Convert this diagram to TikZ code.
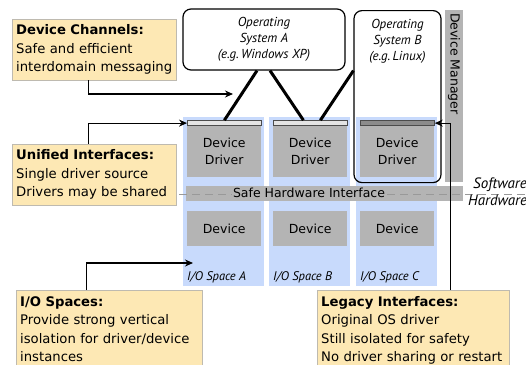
\documentclass[tikz,border=0pt]{standalone}
\usepackage{fontspec}
\setmainfont{DejaVu Sans}
\newfontfamily\osfont{PT Sans}
\usetikzlibrary{arrows.meta,positioning}

\definecolor{notefill}{RGB}{253,232,180}
\definecolor{noteline}{RGB}{190,186,176}
\definecolor{spacefill}{RGB}{200,218,252}
\definecolor{boxgray}{RGB}{180,180,180}
\definecolor{barlight}{RGB}{228,228,228}
\definecolor{bardark}{RGB}{140,140,140}

\begin{document}
\begin{tikzpicture}[x=1pt,y=-1pt,
  >={Stealth[length=8pt,width=7pt]},
  note/.style={draw=noteline,fill=notefill,anchor=north west,align=left,
    inner xsep=4pt,text width=156pt,font=\fontsize{13.2}{18.5}\selectfont},
  space/.style={fill=spacefill,anchor=north west,minimum width=81pt,
    minimum height=169pt,inner sep=0},
  graybox/.style={fill=boxgray,anchor=north west,minimum width=74pt,align=center,
    inner sep=0,font=\fontsize{12.5}{17}\selectfont},
  bar/.style={draw=black!70,line width=0.8pt,anchor=south west,minimum width=74pt,
    minimum height=5pt,inner sep=0},
  osbox/.style={draw,rounded corners=8pt,line width=1.2pt,inner sep=0},
  ostext/.style={font=\osfont\itshape\fontsize{13}{16}\selectfont,align=center,inner sep=0},
  spacelabel/.style={font=\osfont\itshape\fontsize{12.5}{14}\selectfont,
    anchor=base west,inner sep=0},
  splitlabel/.style={font=\osfont\itshape\fontsize{15}{17}\selectfont,
    anchor=base west,inner sep=0},
  link/.style={line width=3pt},
  pointer/.style={->,line width=1.2pt}]

  \useasboundingbox (0,0) rectangle (526,364);

  % I/O spaces
  \node[space] (spaceA) at (183,117) {};
  \node[space] (spaceB) at (269,117) {};
  \node[space] (spaceC) at (356,117) {};

  % safe hardware interface
  \node[fill=boxgray,anchor=north west,minimum width=277pt,minimum height=15pt,
    inner sep=0] (hwband) at (186,186) {};
  \coordinate (splitL) at (179,194);
  \coordinate (splitR) at (530,194);
  \draw[black!40,line width=1pt,dash pattern=on 8pt off 5pt] (splitL) -- (splitR);
  \node[fill=boxgray,inner sep=1pt,font=\fontsize{12.5}{15}\selectfont]
    (safe) at (309,193) {Safe Hardware Interface};
  \node[splitlabel] (sw) at (473,188) {Software};
  \node[splitlabel] (hw) at (468,205) {Hardware};

  % device manager
  \node[fill=boxgray,anchor=north west,minimum width=18pt,minimum height=172pt,
    inner sep=0] (mgrband) at (445,10) {};
  \node[rotate=-90,anchor=west,inner sep=0,font=\fontsize{12.5}{15}\selectfont]
    (mgr) at (454,13) {Device Manager};

  % drivers and devices
  \node[graybox,minimum height=51pt] (drvA) at (187,126) {Device\\Driver};
  \node[graybox,minimum height=51pt] (drvB) at (273,126) {Device\\Driver};
  \node[graybox,minimum height=51pt] (drvC) at (360,126) {Device\\Driver};
  \node[bar,fill=barlight] (barA) at (187,126) {};
  \node[bar,fill=barlight] (barB) at (273,126) {};
  \node[bar,fill=bardark] (barC) at (360,126) {};
  \node[graybox,minimum height=35pt] (devA) at (187,211) {Device};
  \node[graybox,minimum height=35pt] (devB) at (273,211) {Device};
  \node[graybox,minimum height=35pt] (devC) at (360,211) {Device};
  \node[spacelabel] (labA) at (187,280) {I/O Space A};
  \node[spacelabel] (labB) at (273,280) {I/O Space B};
  \node[spacelabel] (labC) at (360,280) {I/O Space C};

  % operating systems
  \node[osbox,ostext,fill=white,minimum width=162pt,minimum height=61pt]
    (osA) at (264,39.5) {Operating\\System A\\(e.g.\,Windows XP)};
  \node[osbox,minimum width=87pt,minimum height=172pt,anchor=north] (osB) at (397.5,10) {};
  \node[ostext,below=9pt of osB.north] (osBtext) {Operating\\System B\\(e.g.\,Linux)};

  \draw[link] ([xshift=-7pt]osA.south) -- (barA.north);
  \draw[link] ([xshift=6pt]osA.south) -- ([xshift=-7pt]barB.north);
  \draw[link] ([yshift=26pt]osB.west) -- ([xshift=10pt]barB.north);

  % notes
  \node[note,minimum height=61pt] (chan) at (12,19)
    {\textbf{Device Channels:}\\Safe and efficient\\interdomain messaging};
  \node[note,minimum height=61pt] (unify) at (12,144)
    {\textbf{Unified Interfaces:}\\Single driver source\\Drivers may be shared};
  \node[note,text width=178pt,inner ysep=6pt] (iospaces) at (16,290)
    {\textbf{I/O Spaces:}\\Provide strong vertical\\isolation for driver/device\\instances};
  \node[note,text width=184pt,inner ysep=6pt] (legacy) at (317,290)
    {\textbf{Legacy Interfaces:}\\Original OS driver\\Still isolated for safety\\No driver sharing or restart};

  \coordinate (chanTip) at (233,94);
  \coordinate (spaceTip) at (193,263);
  \draw[pointer] ([xshift=-6pt]chan.south) |- (chanTip);
  \draw[pointer] ([xshift=-6pt]unify.north) |- (barA.west);
  \draw[pointer] ([xshift=-23pt]iospaces.north) |- (spaceTip);
  \draw[pointer] ([xshift=37pt]legacy.north) |- (barC.east);
\end{tikzpicture}
\end{document}
